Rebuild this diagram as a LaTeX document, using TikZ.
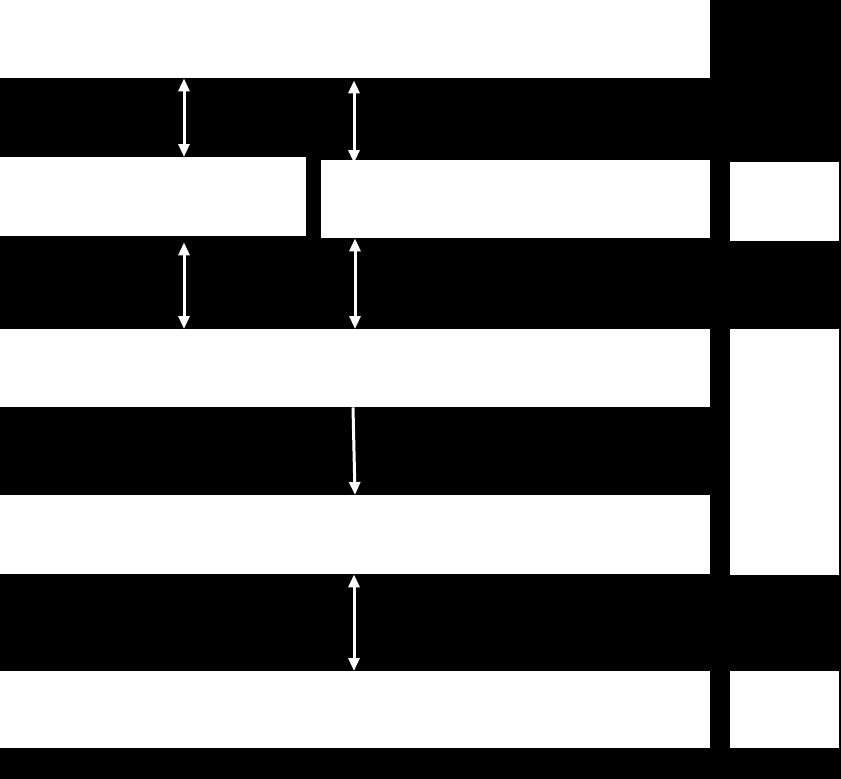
\documentclass[tikz,border=0pt]{standalone}
\usetikzlibrary{arrows.meta}
\begin{document}
\begin{tikzpicture}[x=1pt,y=-1pt,
  blk/.style={fill=white,draw=none,inner sep=0pt,anchor=north west},
  link/.style={draw=white,line width=3pt,{Triangle[width=11pt,length=13pt]}-{Triangle[width=11pt,length=13pt]}},
  onedir/.style={draw=white,line width=3pt,-{Triangle[width=11pt,length=13pt]}}]
\fill[black] (0,0) rectangle (841,779);
\useasboundingbox (0,0) rectangle (841,779);
% boxes
\node[blk,minimum width=710pt,minimum height=78pt] (top) at (0,0) {};
\node[blk,minimum width=306pt,minimum height=79pt] (lb) at (0,157) {};
\node[blk,minimum width=389pt,minimum height=78pt] (rb) at (321,160) {};
\node[blk,minimum width=109pt,minimum height=79pt] (s1) at (730,162) {};
\node[blk,minimum width=710pt,minimum height=78pt] (mid) at (0,329) {};
\node[blk,minimum width=109pt,minimum height=246pt] (s2) at (730,329) {};
\node[blk,minimum width=710pt,minimum height=79pt] (low) at (0,495) {};
\node[blk,minimum width=710pt,minimum height=77pt] (bot) at (0,671) {};
\node[blk,minimum width=109pt,minimum height=77pt] (s3) at (730,671) {};
% arrow columns
\coordinate (ca) at (184,0);
\coordinate (cb) at (354,0);
\coordinate (cc) at (355,0);
\coordinate (cd) at (353,0);
% connectors
\draw[link] (top.south -| ca) -- (lb.north -| ca);
\draw[link,shorten <=2pt,shorten >=-3pt] (top.south -| cb) -- (rb.north -| cb);
\draw[link,shorten <=6pt] (lb.south -| ca) -- (mid.north -| ca);
\draw[link] (rb.south -| cc) -- (mid.north -| cc);
\draw[onedir] (mid.south -| cd) -- (low.north -| cc);
\draw[link] (low.south -| cb) -- (bot.north -| cb);
\end{tikzpicture}
\end{document}
